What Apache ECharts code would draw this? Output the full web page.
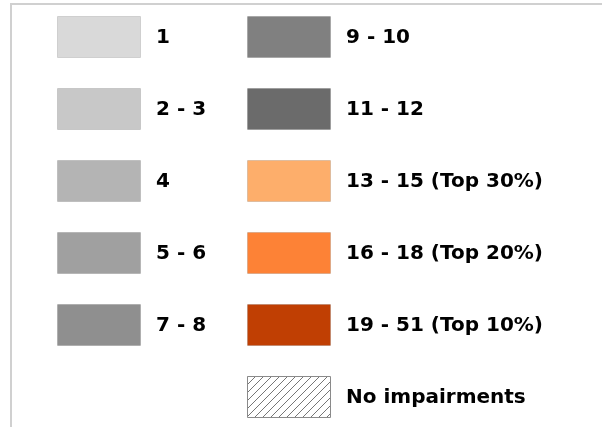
<!DOCTYPE html>
<html>
<head>
<meta charset="utf-8">
<script src="https://cdn.jsdelivr.net/npm/echarts@6/dist/echarts.min.js"></script>
<style>
  html, body { margin: 0; padding: 0; background: #fff; }
  #chart { width: 602px; height: 427px; }
</style>
</head>
<body>
<div id="chart"></div>
<script>
// legend classes (left column first, then right column)
const classLabels = ['1', '2 - 3', '4', '5 - 6', '7 - 8',
    '9 - 10', '11 - 12', '13 - 15 (Top 30%)', '16 - 18 (Top 20%)', '19 - 51 (Top 10%)', 'No impairments'];
const classCols = [0, 0, 0, 0, 0, 1, 1, 1, 1, 1, 1];
const classRows = [0, 1, 2, 3, 4, 0, 1, 2, 3, 4, 5];

const PALETTE = ['#d9d9d9', '#c8c8c8', '#b4b4b4', '#a0a0a0', '#8f8f8f',
    '#808080', '#6b6b6b', '#fdae6b', '#fd8236', '#c03f03', 'hatch'];

const SW_W = 83, SW_H = 41;

function hatchPattern() {
    let c = document.createElement('canvas');
    c.width = 8;
    c.height = 8;
    let ctx = c.getContext('2d');
    ctx.fillStyle = '#fff';
    ctx.fillRect(0, 0, 8, 8);
    ctx.strokeStyle = '#666';
    ctx.lineWidth = 0.9;
    ctx.beginPath();
    ctx.moveTo(-1, 9); ctx.lineTo(9, -1);
    ctx.moveTo(-9, 9); ctx.lineTo(1, -1);
    ctx.moveTo(7, 9); ctx.lineTo(17, -1);
    ctx.stroke();
    return c;
}
const HATCH = hatchPattern();

let myChart = echarts.init(document.getElementById('chart'), null, {renderer: 'canvas'});

let data = [];
for (let i = 0; i < classLabels.length; i++) {
    data.push([classCols[i], classRows[i], i]);
}

function renderSwatch(params, api) {
    let i = api.value(2);
    let p = api.coord([api.value(0), api.value(1)]);
    let isHatch = PALETTE[i] === 'hatch';
    let x0 = Math.round(p[0] - SW_W / 2), y0 = Math.round(p[1] - SW_H / 2);
    return {
        type: 'group',
        children: [{
            type: 'rect',
            shape: {x: x0 + 0.5, y: y0 + 0.5, width: SW_W, height: SW_H},
            style: {
                fill: isHatch ? {image: HATCH, repeat: 'repeat'} : PALETTE[i],
                stroke: isHatch ? '#8a8a8a' : 'rgba(0,0,0,0.12)',
                lineWidth: 1
            }
        }, {
            type: 'text',
            x: x0 + SW_W + 16,
            y: p[1] + 1.5,
            style: {
                text: classLabels[i],
                fill: '#000',
                fontFamily: 'DejaVu Sans',
                fontWeight: 'bold',
                fontSize: 20,
                verticalAlign: 'middle',
                align: 'left'
            }
        }]
    };
}

let option = {
    animation: false,
    grid: {left: 98.5, width: 190, top: 36.5, height: 360},
    xAxis: {type: 'value', min: 0, max: 1, show: false},
    yAxis: {type: 'value', min: 0, max: 5, inverse: true, show: false},
    graphic: [{
        type: 'polyline',
        shape: {points: [[11, 427], [11, 4], [602, 4]]},
        style: {stroke: '#d0d0d0', lineWidth: 2, fill: null}
    }],
    series: [{
        type: 'custom',
        renderItem: renderSwatch,
        data: data
    }]
};

myChart.setOption(option, true);
</script>
</body>
</html>
